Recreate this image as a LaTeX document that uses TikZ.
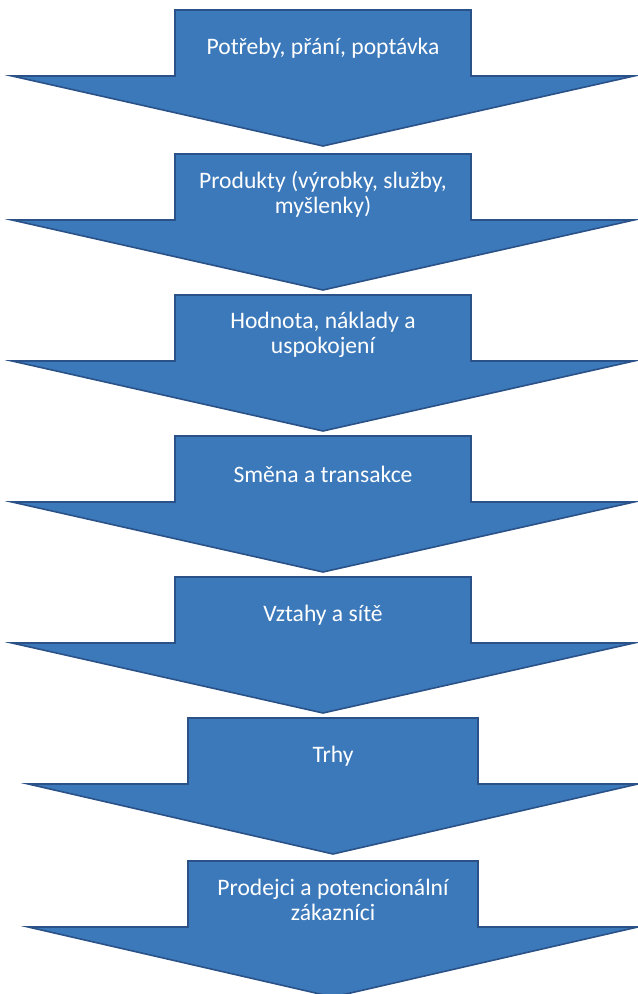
\documentclass[tikz,border=0pt]{standalone}
\usepackage{fontspec}
\setmainfont{Carlito}
\usepackage{color}
\usepackage{tikz}

\definecolor{arrowblue}{RGB}{60,121,186}
\definecolor{arrowedge}{RGB}{42,82,136}

\begin{document}
\begin{tikzpicture}[x=0.5pt,y=-0.5pt]
    \tikzstyle{bigarrow}=[fill=arrowblue,draw=arrowedge,line width=0.8pt,line join=miter]
    \tikzstyle{steptext}=[text=white,align=center,inner sep=0pt,font=\fontsize{11.8}{12.5}\selectfont]

    \useasboundingbox (0,0) rectangle (637,994);

    \def\sx{148}
    \def\hx{311}
    \def\sy{66}
    \def\ty{136}

    \path[bigarrow,shift={(323,10)}]  (-\sx,0) -- (\sx,0) -- (\sx,\sy) -- (\hx,\sy) -- (0,\ty) -- (-\hx,\sy) -- (-\sx,\sy) -- cycle;
    \path[bigarrow,shift={(323,154)}] (-\sx,0) -- (\sx,0) -- (\sx,\sy) -- (\hx,\sy) -- (0,\ty) -- (-\hx,\sy) -- (-\sx,\sy) -- cycle;
    \path[bigarrow,shift={(323,295)}] (-\sx,0) -- (\sx,0) -- (\sx,\sy) -- (\hx,\sy) -- (0,\ty) -- (-\hx,\sy) -- (-\sx,\sy) -- cycle;
    \path[bigarrow,shift={(323,436)}] (-\sx,0) -- (\sx,0) -- (\sx,\sy) -- (\hx,\sy) -- (0,\ty) -- (-\hx,\sy) -- (-\sx,\sy) -- cycle;
    \path[bigarrow,shift={(323,577)}] (-\sx,0) -- (\sx,0) -- (\sx,\sy) -- (\hx,\sy) -- (0,\ty) -- (-\hx,\sy) -- (-\sx,\sy) -- cycle;
    \path[bigarrow,shift={(333,718)},xscale=0.98] (-\sx,0) -- (\sx,0) -- (\sx,\sy) -- (\hx,\sy) -- (0,\ty) -- (-\hx,\sy) -- (-\sx,\sy) -- cycle;
    \path[bigarrow,shift={(333,861)},xscale=0.98] (-\sx,0) -- (\sx,0) -- (\sx,\sy) -- (\hx,\sy) -- (0,\ty) -- (-\hx,\sy) -- (-\sx,\sy) -- cycle;

    \node[steptext] (a1) at (323,48)  {Potřeby, přání, poptávka};
    \node[steptext] (a2) at (323,194) {Produkty (výrobky, služby,\\ myšlenky)};
    \node[steptext] (a3) at (323,335) {Hodnota, náklady a\\ uspokojení};
    \node[steptext] (a4) at (323,474) {Směna a transakce};
    \node[steptext] (a5) at (323,615) {Vztahy a sítě};
    \node[steptext] (a6) at (333,756) {Trhy};
    \node[steptext] (a7) at (333,900) {Prodejci a potencionální\\ zákazníci};
\end{tikzpicture}
\end{document}
